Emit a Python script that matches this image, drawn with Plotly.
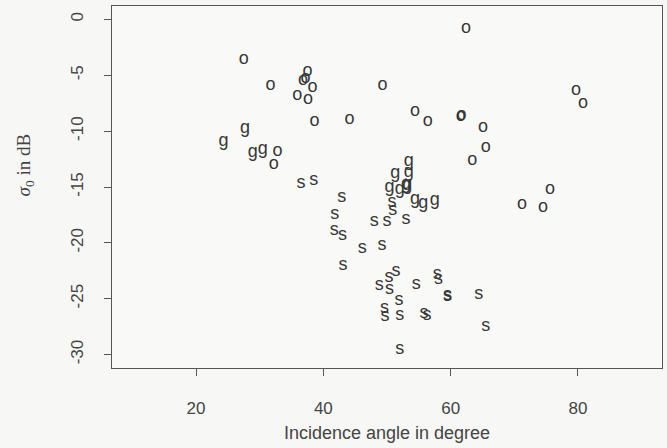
import plotly.graph_objects as go

# Data (incidence angle in degree, sigma0 in dB)
o_angle = [27.5, 31.7, 37.5, 36.8, 37.2, 38.3, 35.9, 37.6, 38.6, 44.1, 49.3, 32.8, 32.2,
           62.4, 54.4, 56.4, 61.6, 61.7, 65.1, 65.5, 63.4, 79.7, 80.8, 75.6, 71.2, 74.5]
o_sigma = [-3.6, -5.9, -4.7, -5.5, -5.3, -6.1, -6.85, -7.2, -9.1, -9.0, -5.9, -11.85, -12.95,
           -0.85, -8.2, -9.1, -8.7, -8.6, -9.7, -11.5, -12.65, -6.4, -7.5, -15.2, -16.6, -16.8]

g_angle = [24.3, 27.7, 28.9, 30.5, 53.4, 53.4, 51.3, 50.4, 52.0, 53.2, 53.0, 54.4, 55.7, 57.5]
g_sigma = [-10.9, -9.8, -11.9, -11.6, -12.7, -13.7, -13.8, -15.0, -15.2, -14.9, -14.8, -16.1, -16.5, -16.2]

s_angle = [36.5, 38.5, 42.9, 41.8, 41.7, 43.0, 46.1, 43.1, 48.0, 50.0, 50.8, 50.9, 53.0,
           49.2, 51.4, 50.3, 48.8, 50.4, 51.9, 49.6, 49.7, 52.0, 52.0, 54.6, 57.9, 58.1,
           59.5, 59.5, 55.8, 56.3, 64.4, 65.5]
s_sigma = [-14.7, -14.4, -15.9, -17.5, -18.9, -19.3, -20.5, -22.0, -18.1, -18.1, -16.4, -17.1, -17.9,
           -20.2, -22.6, -23.1, -23.8, -24.2, -25.2, -25.9, -26.6, -26.5, -29.5, -23.7, -22.8, -23.3,
           -24.7, -24.8, -26.3, -26.5, -24.6, -27.5]

x_ticks = [20, 40, 60, 80]
x_labels = ["20", "40", "60", "80"]
y_ticks = [0, -5, -10, -15, -20, -25, -30]
y_labels = ["0", "-5", "-10", "-15", "-20", "-25", "-30"]

ink = "#363636"
mark_font = dict(family="Liberation Sans, Arial, sans-serif", size=18, color=ink)

fig = go.Figure()
for xs, ys, ch in [(o_angle, o_sigma, "o"), (g_angle, g_sigma, "g"), (s_angle, s_sigma, "s")]:
    fig.add_trace(go.Scatter(x=xs, y=ys, mode="text", text=[ch] * len(xs),
                             textposition="middle center", textfont=mark_font,
                             showlegend=False, hoverinfo="x+y"))

axis_common = dict(showgrid=False, zeroline=False, showline=True, mirror=True,
                   linecolor="#555555", linewidth=1.2, ticks="outside", ticklen=7,
                   tickwidth=1.2, tickcolor="#555555", automargin=False,
                   tickfont=dict(family="Liberation Sans, Arial, sans-serif", size=17, color="#444444"))

fig.update_layout(
    width=667, height=448,
    margin=dict(l=112, r=5, t=6, b=80),
    paper_bgcolor="#f7f8f5", plot_bgcolor="#f9faf8",
    xaxis=dict(range=[6.8, 93.2], tickvals=x_ticks, ticktext=x_labels, ticklabelstandoff=17,
               title=dict(text="Incidence angle in degree", standoff=9,
                          font=dict(family="Liberation Sans, Arial, sans-serif", size=18, color="#444444")),
               **axis_common),
    yaxis=dict(range=[-31.2, 1.2], tickvals=y_ticks, ticktext=y_labels, tickangle=-90,
               ticklabelstandoff=14, **axis_common),
    annotations=[dict(text="<i>σ</i><sub>0</sub> in dB", xref="paper", yref="paper",
                      x=-0.158, y=0.56, xanchor="center", yanchor="middle",
                      textangle=-90, showarrow=False,
                      font=dict(family="Liberation Serif, Times New Roman, serif", size=19, color="#444444"))],
)

fig.write_html("out.html", config={"displayModeBar": False},
               post_script="document.body.style.margin='0';document.body.style.background='#f7f8f5';")
